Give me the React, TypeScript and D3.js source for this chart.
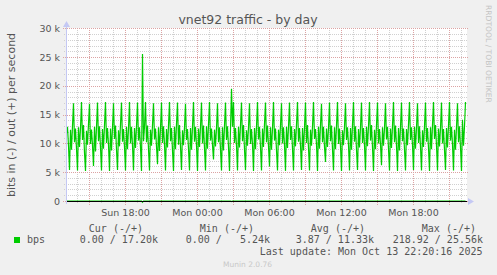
import React from "react";
import * as d3 from "d3";

const W = 497;
const H = 275;

// outbound traffic (kbit/s), one sample per 5 minutes
const outK: number[] = [
  11.8, 12.9, 9.6, 5.4, 12.4, 8.9, 13.1, 17.0,
  10.2, 12.6, 9.1, 5.3, 12.8, 9.4, 12.7, 17.2,
  10.6, 13.2, 8.4, 5.2, 12.2, 9.8, 13.4, 16.9,
  9.9, 12.4, 9.7, 6.1, 12.9, 8.6, 12.9, 17.1,
  10.4, 13.0, 9.2, 5.3, 12.5, 9.1, 13.2, 17.2,
  10.1, 12.7, 9.8, 5.2, 12.6, 8.8, 12.8, 17.0,
  10.8, 13.1, 8.9, 5.4, 12.3, 9.5, 13.3, 17.1,
  10.3, 12.5, 9.4, 5.3, 12.9, 9.0, 12.6, 17.2,
  10.0, 12.9, 9.6, 5.3, 12.7, 9.2, 13.0, 17.1,
  10.5, 12.8, 9.3, 5.2, 25.56, 10.4, 12.9, 17.2,
  10.2, 13.1, 9.0, 5.3, 12.4, 9.6, 13.2, 17.0,
  10.7, 12.6, 9.5, 6.4, 12.8, 8.7, 12.7, 17.1,
  10.1, 13.0, 9.8, 5.3, 12.5, 9.3, 13.1, 17.2,
  10.4, 12.7, 8.8, 5.2, 12.9, 9.0, 13.4, 17.1,
  9.8, 13.2, 9.4, 5.4, 12.3, 9.7, 12.8, 16.9,
  10.6, 12.5, 9.1, 5.3, 12.7, 8.9, 13.0, 17.2,
  10.3, 12.9, 9.6, 5.2, 12.6, 9.4, 12.9, 17.1,
  10.0, 13.1, 9.2, 5.3, 13.0, 9.1, 13.3, 17.2,
  10.5, 12.6, 9.7, 7.2, 12.4, 9.5, 12.7, 17.0,
  10.2, 12.8, 8.9, 5.3, 12.8, 8.8, 13.1, 17.1,
  10.6, 13.0, 9.4, 5.2, 12.5, 19.5, 12.9, 17.2,
  10.1, 12.7, 9.6, 5.3, 12.9, 9.3, 13.2, 17.1,
  10.4, 13.2, 9.0, 5.4, 12.3, 9.6, 12.8, 17.0,
  9.9, 12.5, 9.8, 5.2, 12.7, 9.0, 13.0, 17.2,
  10.7, 12.9, 9.3, 5.3, 12.6, 9.4, 13.4, 17.1,
  10.2, 13.1, 9.5, 6.0, 12.8, 8.9, 12.7, 17.2,
  10.5, 12.6, 8.8, 5.3, 12.4, 9.7, 13.1, 17.0,
  10.0, 12.8, 9.7, 5.24, 12.9, 9.2, 12.9, 17.1,
  10.6, 13.0, 9.1, 5.3, 12.5, 9.5, 13.3, 17.2,
  10.3, 12.7, 9.6, 5.4, 12.7, 8.8, 12.8, 17.1,
  10.1, 13.2, 9.2, 5.3, 12.4, 9.6, 13.0, 17.2,
  10.8, 12.5, 9.8, 5.2, 12.9, 9.1, 13.2, 16.9,
  10.2, 12.9, 9.4, 6.8, 12.6, 9.4, 12.7, 17.1,
  10.4, 13.1, 9.0, 5.3, 12.8, 9.0, 13.1, 17.2,
  9.9, 12.6, 9.5, 5.2, 12.3, 9.7, 12.9, 17.0,
  10.6, 12.8, 9.7, 5.3, 12.7, 8.9, 13.3, 17.2,
  10.3, 13.0, 8.9, 5.4, 12.5, 9.3, 12.8, 17.1,
  10.1, 12.7, 9.6, 5.3, 12.9, 9.5, 13.0, 17.2,
  10.5, 13.2, 9.3, 5.2, 12.4, 9.0, 13.2, 17.1,
  10.0, 12.5, 9.8, 6.2, 12.8, 9.6, 12.7, 17.0,
  10.7, 12.9, 9.1, 5.3, 12.6, 9.2, 13.1, 17.2,
  10.2, 13.1, 9.5, 5.2, 12.7, 8.8, 12.9, 17.1,
  10.4, 12.6, 9.0, 5.3, 12.5, 9.7, 13.3, 17.2,
  10.6, 12.8, 9.7, 5.4, 12.9, 9.1, 12.8, 17.0,
  10.1, 13.0, 9.4, 5.3, 12.3, 9.4, 13.0, 17.1,
  10.3, 12.7, 9.2, 5.2, 12.8, 9.0, 13.2, 17.2,
  10.8, 13.2, 9.6, 5.3, 12.6, 9.5, 12.7, 17.1,
  10.0, 12.5, 8.9, 5.4, 12.7, 9.3, 13.1, 17.2,
  10.5, 12.9, 9.8, 5.3, 12.4, 8.9, 12.9, 17.0,
  10.2, 13.0, 9.3, 5.2, 14.1, 9.6, 13.0, 17.2,
];

// inbound traffic (bit/s): non-zero samples only
const inIndex: number[] = [76, 165];
const inBits: number[] = [218.92, 96];

const yTicks: number[] = [0, 5, 10, 15, 20, 25, 30];
const yTickLabels: string[] = ["0", "5 k", "10 k", "15 k", "20 k", "25 k", "30 k"];

const xLabelTimes: Date[] = [
  new Date(2025, 9, 12, 18, 0),
  new Date(2025, 9, 13, 0, 0),
  new Date(2025, 9, 13, 6, 0),
  new Date(2025, 9, 13, 12, 0),
  new Date(2025, 9, 13, 18, 0),
];
const xLabels: string[] = ["Sun 18:00", "Mon 00:00", "Mon 06:00", "Mon 12:00", "Mon 18:00"];

const legendHeaders: string[] = ["Cur (-/+)", "Min (-/+)", "Avg (-/+)", "Max (-/+)"];
const legendValues: string[] = ["0.00 / 17.20k", "0.00 /   5.24k", "3.87 / 11.33k", "218.92 / 25.56k"];

const viewStart = new Date(2025, 9, 12, 13, 7, 30);
const viewEnd = new Date(2025, 9, 13, 22, 27, 30);
const firstSample = new Date(2025, 9, 12, 13, 5, 0);

const PL = 67;
const PR = 467;
const PT = 28.4;
const PB = 201;

const GREEN = "#00cc00";
const SANS = "'DejaVu Sans', sans-serif";
const MONO = "'DejaVu Sans Mono', monospace";
const TXT = "#555555";

export default function App() {
  const x = d3.scaleTime().domain([viewStart, viewEnd]).range([PL, PR]);
  const y = d3.scaleLinear().domain([0, 30]).range([PB, PT]);

  const sampleX = (i: number) => x(new Date(firstSample.getTime() + i * 300000));

  const outLine = d3
    .line<number>()
    .x((_, i) => sampleX(i))
    .y((d) => y(d))(outK) as string;

  const inSeries = outK.map((_, i) => {
    const k = inIndex.indexOf(i);
    return k >= 0 ? -inBits[k] / 1000 : 0;
  });
  const inLine = d3
    .line<number>()
    .x((_, i) => sampleX(i))
    .y((d) => y(d))(inSeries) as string;

  const minorY = d3.range(0, 31).filter((v) => v % 5 !== 0);
  const hours = d3.timeHour.range(viewStart, viewEnd);
  const minorX = hours.filter((h) => h.getHours() % 3 !== 0);
  const majorX = hours.filter((h) => h.getHours() % 3 === 0);

  const py = (v: number) => Math.round(y(v)) + 0.5;
  const px = (t: Date) => Math.floor(x(t)) + 0.5;

  const headerEnds = [143, 254, 365, 476];
  const valueEnds = [158, 270, 374, 483];

  return (
    <svg
      width={W}
      height={H}
      style={{ position: "absolute", left: 0, top: 0, display: "block" }}
    >
      <rect x={0} y={0} width={W} height={H} fill="#f0f0f0" />
      <rect x={PL} y={28} width={PR - PL} height={PB - 28} fill="#ffffff" />

      {/* minor grid */}
      {minorY.map((v) => (
        <line key={"my" + v} x1={64} x2={PR} y1={py(v)} y2={py(v)}
          stroke="#d0d0d0" strokeWidth={1} strokeDasharray="1,1" />
      ))}
      {minorX.map((t) => (
        <line key={"mx" + t.getTime()} x1={px(t)} x2={px(t)} y1={28} y2={PB + 3}
          stroke="#d0d0d0" strokeWidth={1} strokeDasharray="1,1" />
      ))}
      {/* major grid */}
      {yTicks.map((v) => (
        <line key={"My" + v} x1={63} x2={PR + 2} y1={py(v)} y2={py(v)}
          stroke="#dca3a3" strokeWidth={1} strokeDasharray="1,1" />
      ))}
      {majorX.map((t) => (
        <line key={"Mx" + t.getTime()} x1={px(t)} x2={px(t)} y1={28} y2={PB + 4}
          stroke="#dca3a3" strokeWidth={1} strokeDasharray="1,1" />
      ))}

      {/* series */}
      <path d={inLine} fill="none" stroke={GREEN} strokeWidth={1.2} />
      <path d={outLine} fill="none" stroke={GREEN} strokeWidth={1.2} />

      {/* zero line */}
      <line x1={PL} x2={PR} y1={PB + 0.5} y2={PB + 0.5} stroke="#000" strokeWidth={1} />

      {/* axes */}
      <line x1={PL - 0.5} x2={PL - 0.5} y1={PB + 3} y2={26} stroke="#c4c8f4" strokeWidth={1} />
      <path d={`M${PL - 4},${27} L${PL - 0.5},${21} L${PL + 3},${27} Z`} fill="#c4c8f4" />
      <path d={`M${PR + 1},${PB - 3} L${PR + 7},${PB + 0.5} L${PR + 1},${PB + 4} Z`} fill="#c4c8f4" />

      {/* y tick labels */}
      {yTicks.map((v, i) => (
        <text key={"yl" + v} x={60} y={y(v) + 3.5} textAnchor="end"
          fontFamily={SANS} fontSize={9.5} fill={TXT}>
          {yTickLabels[i]}
        </text>
      ))}

      {/* x tick labels */}
      {xLabelTimes.map((t, i) => (
        <text key={"xl" + i} x={x(t)} y={216} textAnchor="middle"
          fontFamily={SANS} fontSize={9.5} fill={TXT}>
          {xLabels[i]}
        </text>
      ))}

      {/* title */}
      <text x={248} y={23.5} textAnchor="middle" fontFamily={SANS} fontSize={12.5} fill={TXT}>
        vnet92 traffic - by day
      </text>

      {/* y axis title */}
      <text transform={`translate(15,115) rotate(-90)`} textAnchor="middle"
        fontFamily={SANS} fontSize={11} fill={TXT}>
        bits in (-) / out (+) per second
      </text>

      {/* watermark */}
      <text transform={`translate(485.5,5) rotate(90)`} textAnchor="start"
        fontFamily={SANS} fontSize={7.6} fill="#c4c4c4">
        RRDTOOL / TOBI OETIKER
      </text>

      {/* legend */}
      {legendHeaders.map((h, i) => (
        <text key={"lh" + i} x={headerEnds[i]} y={231.5} textAnchor="end"
          fontFamily={MONO} fontSize={10} fill={TXT} style={{ whiteSpace: "pre" }}>
          {h}
        </text>
      ))}
      <rect x={14} y={237} width={6} height={6} fill={GREEN} />
      <text x={27} y={243} fontFamily={MONO} fontSize={10} fill={TXT}>bps</text>
      {legendValues.map((v, i) => (
        <text key={"lv" + i} x={valueEnds[i]} y={243} textAnchor="end"
          fontFamily={MONO} fontSize={10} fill={TXT} style={{ whiteSpace: "pre" }}>
          {v}
        </text>
      ))}
      <text x={482.5} y={255} textAnchor="end" fontFamily={MONO} fontSize={10} fill={TXT}
        style={{ whiteSpace: "pre" }}>
        Last update: Mon Oct 13 22:20:16 2025
      </text>
      <text x={223} y={267} fontFamily={SANS} fontSize={7.5} fill="#c8c8c8">
        Munin 2.0.76
      </text>
    </svg>
  );
}
